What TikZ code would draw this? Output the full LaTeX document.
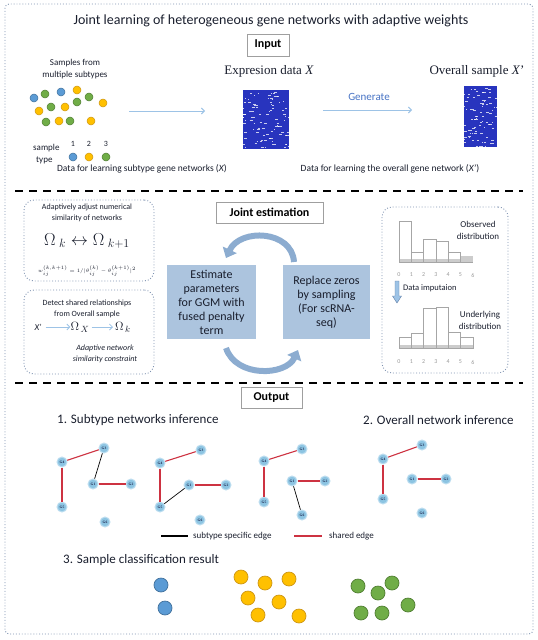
\documentclass[tikz,border=0pt]{standalone}
\usepackage{fontspec}
\setmainfont{Carlito}
\newfontfamily\serifx{Liberation Serif}
\usetikzlibrary{arrows.meta}
\definecolor{frameblue}{RGB}{125,145,175}
\definecolor{arrowblue}{RGB}{157,195,230}
\definecolor{boxblue}{RGB}{172,196,222}
\definecolor{curvblue}{RGB}{140,172,208}
\definecolor{curvedge}{RGB}{95,125,165}
\definecolor{dotblue}{RGB}{91,155,213}
\definecolor{dotblueb}{RGB}{65,113,156}
\definecolor{dotyel}{RGB}{255,192,0}
\definecolor{dotyelb}{RGB}{205,150,20}
\definecolor{dotgreen}{RGB}{112,173,71}
\definecolor{dotgreenb}{RGB}{80,126,50}
\definecolor{heat}{RGB}{40,52,190}
\definecolor{genfill}{RGB}{140,196,226}
\definecolor{genhalo}{RGB}{190,222,240}
\definecolor{gentext}{RGB}{30,40,80}
\definecolor{rededge}{RGB}{205,50,65}
\definecolor{gentxt}{RGB}{70,114,196}
\definecolor{darktext}{RGB}{25,30,45}
\tikzset{
  frame/.style={draw=frameblue, dotted, line width=0.9pt},
  dotbox/.style={draw=frameblue, dotted, line width=0.9pt, rounded corners=10pt, inner sep=0pt},
  labbox/.style={draw=gray!75, fill=white, line width=0.8pt, font=\bfseries\fontsize{12}{14}\selectfont, inner sep=0pt},
  bluebox/.style={fill=boxblue, text=darktext, align=center, inner sep=0pt, font=\fontsize{12}{14}\selectfont},
  sepline/.style={draw=black, line width=2.2pt, dash pattern=on 8pt off 6pt},
  thinarr/.style={draw=arrowblue, line width=0.9pt, -{Straight Barb[length=3pt,width=6pt]}},
  curvarr/.style={draw=curvblue, line width=6pt, -{Triangle[width=15pt,length=9pt]}},
  sdot/.style={circle, inner sep=0pt, minimum size=8pt, line width=0.5pt},
  sb/.style={sdot, fill=dotblue, draw=dotblueb},
  sy/.style={sdot, fill=dotyel, draw=dotyelb},
  sg/.style={sdot, fill=dotgreen, draw=dotgreenb},
  cdot/.style={circle, inner sep=0pt, minimum size=14pt, line width=0.7pt},
  cb/.style={cdot, fill=dotblue, draw=dotblueb},
  cy/.style={cdot, fill=dotyel, draw=dotyelb},
  cg/.style={cdot, fill=dotgreen, draw=dotgreenb},
  gene/.style={circle, fill=genfill, draw=genhalo, line width=1pt, inner sep=0pt, minimum size=10pt, text=gentext, font=\serifx\bfseries\fontsize{3.6}{4}\selectfont},
  redge/.style={draw=rededge, line width=1.1pt},
  bedge/.style={draw=black, line width=0.7pt},
  txt/.style={inner sep=0pt, align=center, text=darktext},
  mtxt/.style={inner sep=0pt, text=darktext},
  histbar/.style={draw=gray!70, line width=0.6pt},
  tick/.style={inner sep=0pt, text=gray!80, font=\fontsize{6}{7}\selectfont},
  heatmap/.style={fill=heat, inner sep=0pt},
  speck/.style={white, line width=0.45pt, opacity=0.75}
}
\begin{document}
\begin{tikzpicture}[x=1pt,y=-1pt]
\useasboundingbox (0,0) rectangle (538,640);
% outer frame
\draw[frame, rounded corners=4pt] (5,4) rectangle (533,634);
% title
\node[txt, font=\fontsize{14}{16}\selectfont] (title) at (271,21) {Joint learning of heterogeneous gene networks with adaptive weights};
% ---------------- Input ----------------
\node[labbox, minimum width=42pt, minimum height=22pt] (input) at (268,45) {Input};
\node[txt, font=\fontsize{9}{12}\selectfont] (samples) at (75,69) {Samples from\\multiple subtypes};
\node[sb] (d1) at (34,98) {};
\node[sg] (d2) at (45,94) {};
\node[sb] (d3) at (61,92) {};
\node[sy] (d4) at (77,90) {};
\node[sg] (d5) at (89,97) {};
\node[sy] (d6) at (103,103) {};
\node[sy] (d7) at (39,111) {};
\node[sg] (d8) at (51,107) {};
\node[sy] (d9) at (65,107) {};
\node[sg] (d10) at (77,102) {};
\node[sg] (d11) at (46,122) {};
\node[sy] (d12) at (59,121) {};
\node[sg] (d13) at (70,121) {};
\node[sy] (d14) at (91,121) {};
\node[txt, font=\fontsize{9}{12}\selectfont, anchor=west] (stype1) at (33,148) {sample};
\node[txt, font=\fontsize{9}{12}\selectfont, anchor=west] (stype2) at (36,160) {type};
\node[txt, font=\fontsize{8}{9}\selectfont] (n1) at (73,144) {1};
\node[txt, font=\fontsize{8}{9}\selectfont] (n2) at (89,144) {2};
\node[txt, font=\fontsize{8}{9}\selectfont] (n3) at (106,144) {3};
\node[sb] (k1) at (73,157) {};
\node[sy] (k2) at (89,157) {};
\node[sg] (k3) at (106,157) {};
\coordinate (a1s) at (129,111);
\coordinate (a1e) at (205,111);
\draw[thinarr] (a1s) -- (a1e);
\node[txt, font=\serifx\fontsize{13}{15}\selectfont] (exprlab) at (269,71) {Expresion data \textit{X}};
\node[heatmap, minimum width=46pt, minimum height=59pt] (hm1) at (266,119.5) {};
\pgfmathsetseed{11}
\begin{scope}
\clip (243,90) rectangle (289,149);
\foreach \r in {0,...,18}{
  \foreach \i in {1,...,5}{
    \pgfmathsetmacro{\ax}{242+47*rnd}
    \pgfmathsetmacro{\ay}{92.5+3*\r+0.8*rnd}
    \pgfmathsetmacro{\al}{0.6+3*rnd}
    \draw[speck] (\ax,\ay) -- ++(\al,0);
  }
}
\end{scope}
\node[txt, text=gentxt, font=\fontsize{11}{13}\selectfont] (gen) at (369,97) {Generate};
\coordinate (a2s) at (323,110);
\coordinate (a2e) at (412,110);
\draw[thinarr] (a2s) -- (a2e);
\node[txt, font=\serifx\fontsize{13}{15}\selectfont] (overlab) at (477,71) {Overall sample \textit{X}’};
\node[heatmap, minimum width=33pt, minimum height=61pt] (hm2) at (480.5,116.5) {};
\begin{scope}
\clip (464,86) rectangle (497,147);
\foreach \r in {0,...,19}{
  \foreach \i in {1,...,4}{
    \pgfmathsetmacro{\ax}{463+34*rnd}
    \pgfmathsetmacro{\ay}{88.5+3*\r+0.8*rnd}
    \pgfmathsetmacro{\al}{0.6+3*rnd}
    \draw[speck] (\ax,\ay) -- ++(\al,0);
  }
}
\end{scope}
\node[txt, font=\fontsize{9.5}{12}\selectfont] (data1) at (142,169) {Data for learning subtype gene networks (\textit{X})};
\node[txt, font=\fontsize{9.5}{12}\selectfont] (data2) at (390,169) {Data for learning the overall gene network (\textit{X}’)};
\draw[sepline] (15,191) -- (523,191);
% ---------------- Joint estimation ----------------
\node[dotbox, minimum width=130pt, minimum height=81pt] (box1) at (89,240.5) {};
\node[txt, font=\fontsize{8}{11}\selectfont] (adj) at (87,212.5) {Adaptively adjust numerical\\similarity of networks};
\node[mtxt, font=\fontsize{17}{19}\selectfont] (omeq) at (87,241) {$\Omega_{\;k} \leftrightarrow \Omega_{\;k+1}$};
\node[mtxt, font=\fontsize{5.2}{6}\selectfont] (weq) at (87,271.5) {$w_{ij}^{(k,k+1)}=1/|\theta_{ij}^{(k)}-\theta_{ij}^{(k+1)}|^2$};
\node[dotbox, minimum width=130pt, minimum height=84pt] (box2) at (89,332) {};
\node[txt, font=\fontsize{8}{11}\selectfont] (det) at (87,308.5) {Detect shared relationships\\from Overall sample};
\node[txt, font=\itshape\fontsize{9}{11}\selectfont] (xp) at (38,327) {X’};
\node[mtxt, font=\fontsize{13}{15}\selectfont] (omx) at (80,327) {$\Omega_{\,X}$};
\node[mtxt, font=\fontsize{13}{15}\selectfont] (omk) at (123,327) {$\Omega_{\,k}$};
\draw[thinarr, line width=0.8pt, shorten <=4pt] (xp.east) -- (omx.west);
\draw[thinarr, line width=0.8pt, shorten <=2pt, shorten >=2pt] (omx.east) -- (omk.west);
\node[txt, font=\itshape\fontsize{8}{11}\selectfont] (adapt) at (105,353.5) {Adaptive network\\similarity constraint};
\node[labbox, minimum width=107pt, minimum height=21pt] (joint) at (269.5,212.5) {Joint estimation};
\node[bluebox, minimum width=89pt, minimum height=74pt] (est) at (211.5,302) {Estimate\\parameters\\for GGM with\\fused penalty\\term};
\node[bluebox, minimum width=87pt, minimum height=74pt] (rep) at (326.5,302) {Replace zeros\\by sampling\\(For scRNA-\\seq)};
\coordinate (c1s) at (294,262);
\coordinate (c1e) at (226,258);
\draw[curvarr] (c1s) .. controls (292,230) and (240,228) .. (c1e);
\coordinate (c2s) at (226,348);
\coordinate (c2e) at (298,350);
\draw[curvarr] (c2s) .. controls (236,378) and (286,376) .. (c2e);
% right box with histograms
\node[dotbox, minimum width=126pt, minimum height=166pt] (box3) at (445,290) {};
\fill[gray!40] (399,259) rectangle (473,262);
\fill[gray!40] (460.5,256) rectangle (473,262);
\draw[histbar] (399,262) rectangle (411.3,221);
\draw[histbar] (411.3,262) rectangle (423.6,252);
\draw[histbar] (423.6,262) rectangle (435.9,239);
\draw[histbar] (435.9,262) rectangle (448.2,241);
\draw[histbar] (448.2,262) rectangle (460.5,252);
\draw[histbar] (399,262) -- (473,262);
\foreach \t in {0,...,6}{
  \node[tick] (ta\t) at (399+12.3*\t,275) {\t};
}
\node[txt, font=\fontsize{9}{12}\selectfont] (obs) at (478,230) {Observed\\distribution};
\draw[fill=arrowblue, draw=curvedge, line width=0.4pt] (395,281) -- (399,281) -- (399,296) -- (401.5,296) -- (397,303) -- (392.5,296) -- (395,296) -- cycle;
\node[txt, font=\fontsize{8.5}{10}\selectfont, anchor=west] (imp) at (403,288) {Data imputaion};
\fill[gray!40] (399,345) rectangle (473,348);
\draw[histbar] (399,348) rectangle (411.3,337);
\draw[histbar] (411.3,348) rectangle (423.6,333);
\draw[histbar] (423.6,348) rectangle (435.9,308);
\draw[histbar] (435.9,348) rectangle (448.2,307);
\draw[histbar] (448.2,348) rectangle (460.5,332);
\draw[histbar] (460.5,348) rectangle (473,337);
\foreach \t in {0,...,6}{
  \node[tick] (tb\t) at (399+12.3*\t,362) {\t};
}
\node[txt, font=\fontsize{9}{12}\selectfont] (und) at (480,320) {Underlying\\distribution};
\draw[sepline] (15,383) -- (523,383);
% ---------------- Output ----------------
\node[labbox, minimum width=61pt, minimum height=21pt] (output) at (271.5,397.5) {Output};
\node[txt, font=\fontsize{13}{15}\selectfont, anchor=west] (sub) at (57,420) {1. Subtype networks inference};
\node[txt, font=\fontsize{13}{15}\selectfont, anchor=west] (ovr) at (363,420) {2. Overall network inference};
% net 1
\node[gene] (n1g3) at (104,448) {G3};
\node[gene] (n1g4) at (62,462) {G4};
\node[gene] (n1g1) at (93,484) {G1};
\node[gene] (n1g2) at (131,484) {G2};
\node[gene] (n1g5) at (62,507) {G5};
\node[gene] (n1g6) at (105,522) {G6};
\draw[redge] (n1g4) -- (n1g3);
\draw[redge] (n1g4) -- (n1g5);
\draw[redge] (n1g1) -- (n1g2);
\draw[bedge] (n1g3) -- (n1g1);
% net 2
\node[gene] (n2g3) at (201,450) {G3};
\node[gene] (n2g4) at (160,463) {G4};
\node[gene] (n2g1) at (189,485) {G1};
\node[gene] (n2g2) at (226,485) {G2};
\node[gene] (n2g5) at (160,507) {G5};
\node[gene] (n2g6) at (200,520) {G6};
\draw[redge] (n2g4) -- (n2g3);
\draw[redge] (n2g4) -- (n2g5);
\draw[redge] (n2g1) -- (n2g2);
\draw[bedge] (n2g1) -- (n2g5);
% net 3
\node[gene] (n3g3) at (302,449) {G3};
\node[gene] (n3g4) at (264,461) {G4};
\node[gene] (n3g1) at (292,481) {G1};
\node[gene] (n3g2) at (325,481) {G2};
\node[gene] (n3g5) at (264,502) {G5};
\node[gene] (n3g6) at (302,515) {G6};
\draw[redge] (n3g4) -- (n3g3);
\draw[redge] (n3g4) -- (n3g5);
\draw[redge] (n3g1) -- (n3g2);
\draw[bedge] (n3g1) -- (n3g6);
% net 4
\node[gene] (n4g3) at (422,445) {G3};
\node[gene] (n4g4) at (383,459) {G4};
\node[gene] (n4g1) at (412,479) {G1};
\node[gene] (n4g2) at (446,479) {G2};
\node[gene] (n4g5) at (383,499) {G5};
\node[gene] (n4g6) at (422,513) {G6};
\draw[redge] (n4g4) -- (n4g3);
\draw[redge] (n4g4) -- (n4g5);
\draw[redge] (n4g1) -- (n4g2);
% legend
\coordinate (lb1) at (161,536);
\coordinate (lb2) at (188,536);
\draw[draw=black, line width=1.3pt] (lb1) -- (lb2);
\node[txt, font=\fontsize{9}{11}\selectfont, anchor=west] (lgb) at (193,536) {subtype specific edge};
\coordinate (lr1) at (294,536);
\coordinate (lr2) at (322,536);
\draw[draw=rededge, line width=1.5pt] (lr1) -- (lr2);
\node[txt, font=\fontsize{9}{11}\selectfont, anchor=west] (lgr) at (329,536) {shared edge};
\node[txt, font=\fontsize{13}{15}\selectfont, anchor=west] (cls) at (63,560) {3. Sample classification result};
% classification dots
\node[cb] (c1) at (161,585) {};
\node[cb] (c2) at (165,608) {};
\node[cy] (c3) at (241,577) {};
\node[cy] (c4) at (265,583) {};
\node[cy] (c5) at (289,579) {};
\node[cy] (c6) at (248,598) {};
\node[cy] (c7) at (279,602) {};
\node[cy] (c8) at (258,615) {};
\node[cy] (c9) at (299,616) {};
\node[cg] (c10) at (358,586) {};
\node[cg] (c11) at (392,583) {};
\node[cg] (c12) at (378,593) {};
\node[cg] (c13) at (408,605) {};
\node[cg] (c14) at (361,613) {};
\node[cg] (c15) at (382,613) {};
\end{tikzpicture}
\end{document}
